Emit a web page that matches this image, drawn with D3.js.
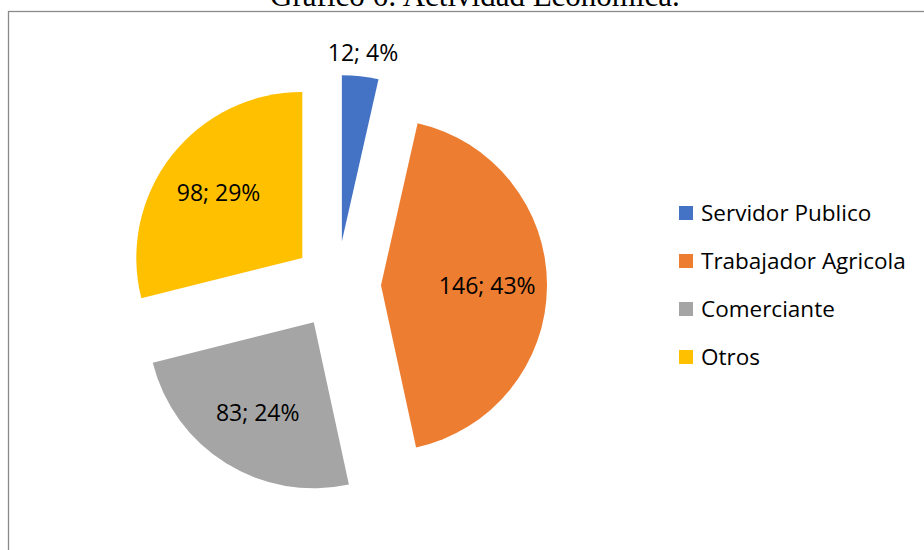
<!DOCTYPE html>
<html>
<head>
<meta charset="utf-8">
<script src="https://cdn.jsdelivr.net/npm/d3@7"></script>
<style>
  html, body { margin: 0; padding: 0; background: #fff; }
  svg { display: block; }
</style>
</head>
<body>
<svg id="chart" width="924" height="550"></svg>
<script>
const title = "Gráfico 6: Actividad Económica.";
const categories = ["Servidor Publico", "Trabajador Agricola", "Comerciante", "Otros"];
const values = [12, 146, 83, 98];
const colors = ["#4472C4", "#ED7D31", "#A5A5A5", "#FFC000"];

const svg = d3.select("#chart");
const W = 924, H = 550;

svg.append("rect").attr("width", W).attr("height", H).attr("fill", "#fff");

// chart border (extends beyond the frame on right/bottom)
svg.append("rect")
  .attr("x", 8.5).attr("y", 11.5)
  .attr("width", 1000).attr("height", 1000)
  .attr("fill", "none").attr("stroke", "#8a8a8a").attr("stroke-width", 1.3);

// title (cut off at top, as in the reference)
svg.append("text")
  .attr("x", 475).attr("y", 6)
  .attr("text-anchor", "middle")
  .attr("font-family", "'Liberation Serif', 'Times New Roman', serif")
  .attr("font-size", 31)
  .attr("fill", "#000")
  .text(title);

const cx = 337, cy = 285, r = 166, explode = 44;
const total = d3.sum(values);

const pie = d3.pie().sort(null).value(d => d);
const arcs = pie(values);
const arc = d3.arc().innerRadius(0).outerRadius(r);

const g = svg.append("g").attr("transform", `translate(${cx},${cy})`);

function offset(d, dist) {
  const a = (d.startAngle + d.endAngle) / 2;
  return [Math.sin(a) * dist, -Math.cos(a) * dist];
}

const slice = g.selectAll("g.slice").data(arcs).enter().append("g")
  .attr("class", "slice")
  .attr("transform", d => { const [x, y] = offset(d, explode); return `translate(${x},${y})`; });

slice.append("path")
  .attr("d", arc)
  .attr("fill", (d, i) => colors[i]);

const labelFont = "'Open Sans', 'Noto Sans', sans-serif";

slice.append("text")
  .attr("transform", d => {
    const share = (d.endAngle - d.startAngle) / (2 * Math.PI);
    const dist = share < 0.06 ? r + 24 : r * 0.64;
    const [x, y] = offset(d, dist);
    return `translate(${x},${y})`;
  })
  .attr("text-anchor", "middle")
  .attr("dy", "0.36em")
  .attr("font-family", labelFont)
  .attr("font-size", 23)
  .attr("fill", "#000")
  .text(d => `${d.data}; ${Math.round(d.data / total * 100)}%`);

// legend
const legend = svg.append("g").attr("transform", "translate(679,213)");
const item = legend.selectAll("g").data(categories).enter().append("g")
  .attr("transform", (d, i) => `translate(0,${i * 48})`);
item.append("rect")
  .attr("x", 0).attr("y", -7).attr("width", 14).attr("height", 14)
  .attr("fill", (d, i) => colors[i]);
item.append("text")
  .attr("x", 22).attr("dy", "0.36em")
  .attr("font-family", labelFont)
  .attr("font-size", 22.5)
  .attr("fill", "#000")
  .text(d => d);
</script>
</body>
</html>
